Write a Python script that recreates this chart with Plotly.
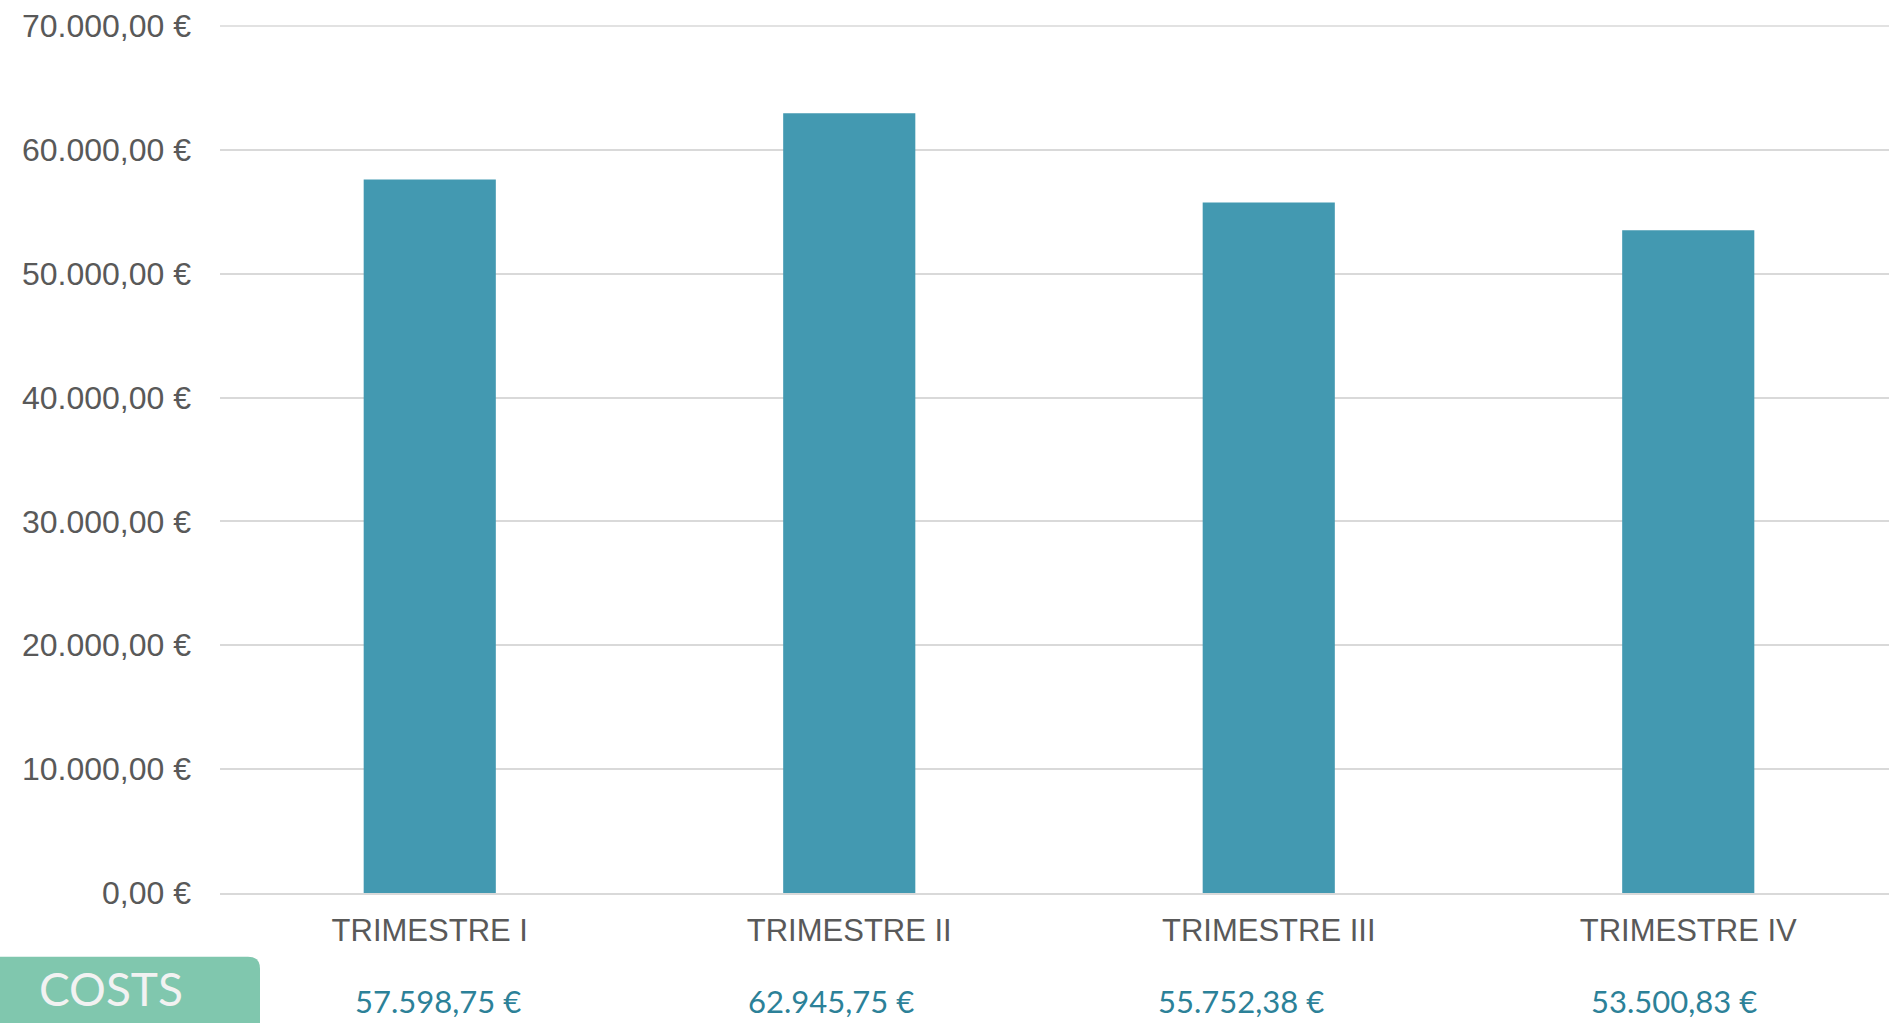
import plotly.graph_objects as go

categories = ["TRIMESTRE I", "TRIMESTRE II", "TRIMESTRE III", "TRIMESTRE IV"]
costs = [57598.75, 62945.75, 55752.38, 53500.83]
y_ticks = [0, 10000, 20000, 30000, 40000, 50000, 60000, 70000]
badge_label = "COSTS"


def eur(v):
    s = f"{v:,.2f}"
    return s.replace(",", "X").replace(".", ",").replace("X", ".") + " €"


W, H = 1889, 1023
L, R = 220, 0
T = 25.7
plot_bottom = 893.3
B = H - plot_bottom
pw, ph = W - L - R, H - T - B
YMAX = y_ticks[-1]


def px2x(page_px):
    return (page_px - L) / pw


def py2y(page_py):
    return (plot_bottom - page_py) / ph


fig = go.Figure()
fig.add_trace(go.Bar(
    x=categories, y=costs,
    marker=dict(color="#4399b1", line=dict(width=0)),
    hoverinfo="skip",
))

# top gridline (plotly skips grid lines at the range edge); paper refs avoid clipping
fig.add_shape(type="line", xref="paper", yref="paper", x0=0, x1=1.01,
              y0=1, y1=1, line=dict(color="#d9d9d9", width=1.5),
              layer="below")

# rounded badge
x0, x1 = px2x(-10), px2x(260)
y0, y1 = py2y(1040), py2y(957)
rx = 12 / pw
ry = 12 / ph
path = (f"M {x0},{y0} L {x0},{y1} L {x1 - rx},{y1} "
        f"Q {x1},{y1} {x1},{y1 - ry} L {x1},{y0} Z")
fig.add_shape(type="path", path=path, xref="paper", yref="paper",
              fillcolor="#80c7ae", line=dict(width=0), layer="above")

fig.add_annotation(x=px2x(111), y=py2y(989), xref="paper", yref="paper",
                   text=badge_label, showarrow=False,
                   font=dict(family="Lato", size=46, color="#f2f2f2"),
                   xanchor="center", yanchor="middle")

shifts = [8, -18, -28, -14]
for c, v, s in zip(categories, costs, shifts):
    fig.add_annotation(x=c, y=py2y(1001), xref="x", yref="paper",
                       text=eur(v), showarrow=False, xshift=s,
                       font=dict(family="Lato", size=31, color="#2c8198"),
                       xanchor="center", yanchor="middle")

fig.update_layout(
    width=W, height=H,
    margin=dict(l=L, r=R, t=T, b=B, pad=0),
    paper_bgcolor="white", plot_bgcolor="white",
    bargap=0.685,
    showlegend=False,
    xaxis=dict(
        range=[-0.5, -0.5 + pw / 419.5],
        showgrid=False, showline=True, linecolor="#d9d9d9", linewidth=2,
        ticks="", tickfont=dict(family="Liberation Sans", size=31, color="#595959"),
        ticklabelstandoff=9,
    ),
    yaxis=dict(
        range=[0, YMAX], tickvals=y_ticks, ticktext=[eur(t) for t in y_ticks],
        showgrid=True, gridcolor="#d9d9d9", gridwidth=1.5,
        zeroline=False, showline=False, ticks="",
        tickfont=dict(family="Liberation Sans", size=32, color="#595959"),
        ticklabelstandoff=28,
    ),
)

fig.write_html("out.html",
               config={"displayModeBar": False},
               post_script="document.body.style.margin='0px';"
                           "document.body.style.overflow='hidden';")
